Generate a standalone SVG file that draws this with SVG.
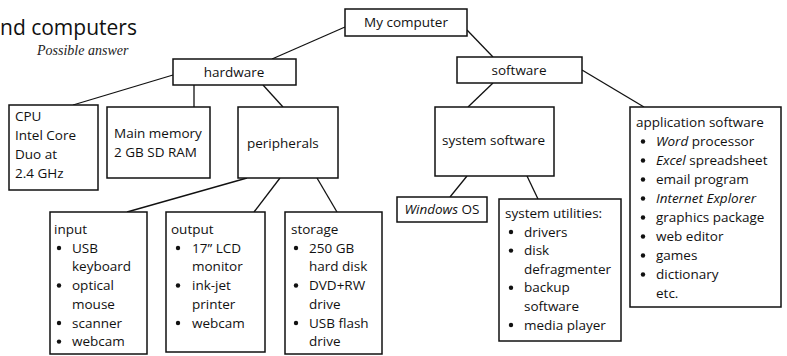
<svg xmlns="http://www.w3.org/2000/svg" width="787" height="356" viewBox="0 0 787 356">
<style>
.box{fill:#fff;stroke:#111;stroke-width:1.5}
.t{font-family:"Open Sans","Liberation Sans",sans-serif;font-size:13.5px;fill:#111}
.c{text-anchor:middle}
.i{font-style:italic}
.ln{stroke:#111;stroke-width:1.3;fill:none}
.b{fill:#111}
</style>
<rect width="787" height="356" fill="#fff"/>
<text x="0" y="35" style="font-family:'Open Sans','Liberation Sans',sans-serif;font-size:21px;fill:#111">nd computers</text>
<text x="37" y="55" style="font-family:'Liberation Serif',serif;font-style:italic;font-size:14px;fill:#222">Possible answer</text>
<g id="connectors">
<line class="ln" x1="345" y1="27" x2="272" y2="59"/>
<line class="ln" x1="467" y1="30" x2="493" y2="57"/>
<line class="ln" x1="173" y1="75" x2="73" y2="105"/>
<line class="ln" x1="194" y1="85" x2="194" y2="107"/>
<line class="ln" x1="263" y1="85" x2="283" y2="107"/>
<line class="ln" x1="493" y1="83" x2="468" y2="107"/>
<line class="ln" x1="582" y1="70" x2="644" y2="107"/>
<line class="ln" x1="247" y1="178" x2="127" y2="212"/>
<line class="ln" x1="280" y1="178" x2="254" y2="212"/>
<line class="ln" x1="317" y1="178" x2="337" y2="212"/>
<line class="ln" x1="467" y1="176" x2="450" y2="197"/>
<line class="ln" x1="527" y1="176" x2="538" y2="199"/>
</g>
<g id="my-computer"><rect class="box" x="345" y="9" width="122" height="27"/><text class="t c" x="406" y="27">My computer</text></g>
<g id="hardware"><rect class="box" x="173" y="59" width="123" height="26"/><text class="t c" x="234" y="77">hardware</text></g>
<g id="software"><rect class="box" x="457" y="57" width="125" height="26"/><text class="t c" x="519" y="75">software</text></g>
<g id="cpu"><rect class="box" x="9" y="105" width="89" height="85"/>
<text class="t" x="15" y="121">CPU</text><text class="t" x="15" y="140">Intel Core</text><text class="t" x="15" y="159">Duo at</text><text class="t" x="15" y="178">2.4 GHz</text></g>
<g id="main-memory"><rect class="box" x="107" y="107" width="103" height="71"/>
<text class="t" x="114" y="138">Main memory</text><text class="t" x="114" y="157">2 GB SD RAM</text></g>
<g id="peripherals"><rect class="box" x="238" y="107" width="100" height="71"/><text class="t" x="247" y="148">peripherals</text></g>
<g id="input"><rect class="box" x="50" y="212" width="97" height="142"/>
<text class="t" x="54" y="234">input</text>
<circle class="b" cx="59" cy="248" r="2.2"/><text class="t" x="72" y="252.7">USB</text>
<text class="t" x="72" y="271.4">keyboard</text>
<circle class="b" cx="59" cy="285.5" r="2.2"/><text class="t" x="72" y="290.1">optical</text>
<text class="t" x="72" y="308.8">mouse</text>
<circle class="b" cx="59" cy="323" r="2.2"/><text class="t" x="72" y="327.5">scanner</text>
<circle class="b" cx="59" cy="341.6" r="2.2"/><text class="t" x="72" y="346.2">webcam</text></g>
<g id="output"><rect class="box" x="166" y="212" width="99" height="140"/>
<text class="t" x="171" y="234">output</text>
<circle class="b" cx="178" cy="248" r="2.2"/><text class="t" x="192" y="252.7">17” LCD</text>
<text class="t" x="192" y="271.4">monitor</text>
<circle class="b" cx="178" cy="285.5" r="2.2"/><text class="t" x="192" y="290.1">ink-jet</text>
<text class="t" x="192" y="308.8">printer</text>
<circle class="b" cx="178" cy="323" r="2.2"/><text class="t" x="192" y="327.5">webcam</text></g>
<g id="storage"><rect class="box" x="285" y="212" width="97" height="142"/>
<text class="t" x="291" y="234">storage</text>
<circle class="b" cx="296" cy="248" r="2.2"/><text class="t" x="309" y="252.7">250 GB</text>
<text class="t" x="309" y="271.4">hard disk</text>
<circle class="b" cx="296" cy="285.5" r="2.2"/><text class="t" x="309" y="290.1">DVD+RW</text>
<text class="t" x="309" y="308.8">drive</text>
<circle class="b" cx="296" cy="323" r="2.2"/><text class="t" x="309" y="327.5">USB flash</text>
<text class="t" x="309" y="346.2">drive</text></g>
<g id="system-software"><rect class="box" x="435" y="107" width="119" height="69"/><text class="t" x="442" y="145">system software</text></g>
<g id="windows-os"><rect class="box" x="397" y="197" width="90" height="25"/><text class="t c" x="442" y="214"><tspan class="i">Windows</tspan> OS</text></g>
<g id="system-utilities"><rect class="box" x="499" y="199" width="122" height="142"/>
<text class="t" x="505" y="218">system utilities:</text>
<circle class="b" cx="511" cy="232" r="2.2"/><text class="t" x="524" y="236.6">drivers</text>
<circle class="b" cx="511" cy="250.6" r="2.2"/><text class="t" x="524" y="255.2">disk</text>
<text class="t" x="524" y="273.8">defragmenter</text>
<circle class="b" cx="511" cy="287.8" r="2.2"/><text class="t" x="524" y="292.4">backup</text>
<text class="t" x="524" y="311">software</text>
<circle class="b" cx="511" cy="325" r="2.2"/><text class="t" x="524" y="329.6">media player</text></g>
<g id="application-software"><rect class="box" x="630" y="107" width="151" height="200"/>
<text class="t" x="636" y="127">application software</text>
<circle class="b" cx="643" cy="141.5" r="2.2"/><text class="t" x="656" y="146"><tspan class="i">Word</tspan> processor</text>
<circle class="b" cx="643" cy="160.5" r="2.2"/><text class="t" x="656" y="165"><tspan class="i">Excel</tspan> spreadsheet</text>
<circle class="b" cx="643" cy="179.5" r="2.2"/><text class="t" x="656" y="184">email program</text>
<circle class="b" cx="643" cy="198.5" r="2.2"/><text class="t i" x="656" y="203">Internet Explorer</text>
<circle class="b" cx="643" cy="217.5" r="2.2"/><text class="t" x="656" y="222">graphics package</text>
<circle class="b" cx="643" cy="236.5" r="2.2"/><text class="t" x="656" y="241">web editor</text>
<circle class="b" cx="643" cy="255.5" r="2.2"/><text class="t" x="656" y="260">games</text>
<circle class="b" cx="643" cy="274.5" r="2.2"/><text class="t" x="656" y="279">dictionary</text>
<text class="t" x="656" y="298">etc.</text></g>
</svg>
